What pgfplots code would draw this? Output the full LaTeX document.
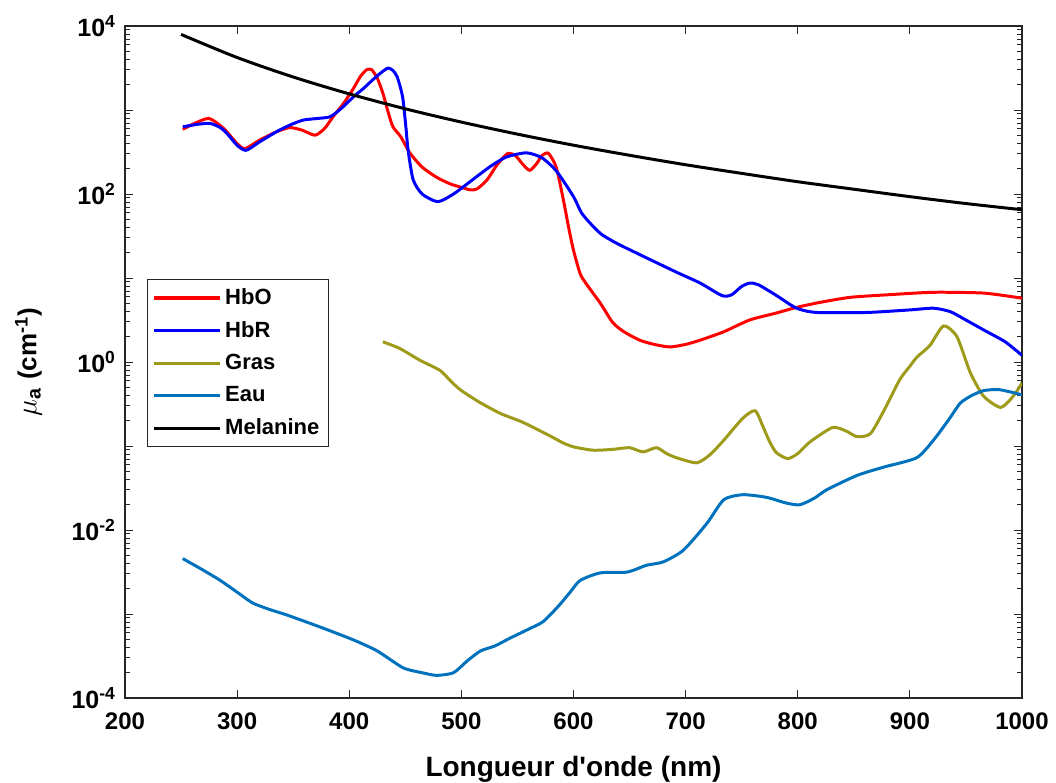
\documentclass[border=0pt]{standalone}
\usepackage{pgfplots}
\pgfplotsset{compat=1.18}
\usepackage{fontspec}
\setmainfont{Liberation Sans}
\definecolor{HbOcol}{RGB}{255,0,0}
\definecolor{HbRcol}{RGB}{0,0,255}
\definecolor{Grascol}{RGB}{158,154,26}
\definecolor{Eaucol}{HTML}{0072BD}
\definecolor{AxCol}{gray}{0.15}
\begin{document}
\begin{tikzpicture}
\useasboundingbox (-62.5bp,-42.5bp) rectangle (465.5bp,349bp);
\begin{axis}[
  scale only axis,
  width=448.5bp, height=336bp,
  xmin=200, xmax=1000,
  ymode=log, ymin=1e-4, ymax=1e4,
  xtick={200,300,...,1000},
  ytick={1e-4,1e-3,1e-2,1e-1,1,1e1,1e2,1e3,1e4},
  yticklabels={10\textsuperscript{-4},,10\textsuperscript{-2},,10\textsuperscript{0},,10\textsuperscript{2},,10\textsuperscript{4}},
  axis line style={draw=AxCol, line width=0.6pt},
  tick style={draw=AxCol, line width=0.5pt},
  tick align=inside,
  major tick length=4bp, minor tick length=2.5bp,
  xticklabel style={font=\fontsize{12bp}{14bp}\selectfont\bfseries, yshift=-4bp, /pgf/number format/assume math mode=true, /pgf/number format/1000 sep={}},
  yticklabel style={font=\fontsize{12.5bp}{14bp}\selectfont\bfseries, xshift=-1bp},
  xlabel={Longueur d{\XeTeXglyph\XeTeXcharglyph"27}onde (nm)},
  ylabel={\fontsize{14bp}{15bp}\selectfont$\mu$\textsubscript{a} \fontsize{13bp}{15bp}\selectfont(cm\textsuperscript{-1})},
  xlabel style={font=\fontsize{14bp}{16bp}\selectfont\bfseries, yshift=-6bp},
  ylabel style={font=\fontsize{13bp}{15bp}\selectfont\bfseries, yshift=8bp},
  legend style={at={(rel axis cs:0.024,0.6235)}, anchor=north west, draw=AxCol, line width=0.5pt,
    font=\fontsize{11bp}{13bp}\selectfont\bfseries, inner sep=2.5bp, row sep=3bp,
    legend cell align=left},
  legend image code/.code={\draw[#1, line width=1.6pt] (0bp,0bp) -- (33bp,0bp);},
  every axis plot/.append style={line width=1.5pt, line join=round, no markers},
]
\addplot[HbOcol, smooth, tension=0.4] coordinates {
(251.5,589) (262,692) (275,794) (288,603) (300,398) (307,347) (320,437) (335,550)
(347,617) (358,575) (369.5,501) (378,603) (385.6,832) (395,1202) (403,1738) (410,2512)
(415.6,3020) (420,3020) (425,2399) (430,1585) (435,912) (439,631) (446,479) (454,309)
(465,209) (478,158) (490,132) (500,120) (508,112) (514,115) (523,148) (532,224)
(541,302) (548,288) (555,224) (561,191) (567,229) (572,288) (577,309) (581,263)
(585,200) (591,85) (596,38) (600,21.4) (606,11.2) (612,8.3) (624,5.0) (635,2.95)
(645,2.29) (659,1.82) (672,1.62) (686,1.51) (700,1.62) (713,1.82) (734,2.29) (757,3.16)
(780,3.80) (799,4.47) (820,5.13) (847,5.89) (880,6.31) (921,6.76) (966,6.61) (1000,5.75)
};
\addlegendentry{HbO}
\addplot[HbRcol, smooth, tension=0.4] coordinates {
(251.5,631) (265,676) (276,692) (285,617) (291,525) (300,380) (308,331) (320,417)
(335,550) (347,661) (359,759) (372,794) (383,832) (393,1047) (404,1445) (413,1820)
(421,2291) (428,2754) (434.6,3162) (439,2951) (442.6,2512) (446,1778) (448,1318) (450.5,631)
(452.5,331) (457,148) (465,100) (479,81) (493,100) (508,141) (525,209) (540,275)
(558,309) (572,269) (585,186) (600,93) (607,60) (615,44.7) (625,33.1) (639,25.7)
(665,17.4) (692,11.7) (713,8.7) (732.5,6.17) (741,6.31) (750,7.94) (757.5,8.71) (765,8.3)
(780,6.31) (799,4.37) (817,3.89) (862,3.89) (900,4.17) (921,4.37) (936,3.98) (950,3.16)
(966,2.40) (985,1.74) (1000,1.20)
};
\addlegendentry{HbR}
\addplot[Grascol, smooth, tension=0.4] coordinates {
(430,1.74) (445,1.45) (463,1.05) (481,0.794) (490,0.603) (499,0.468) (515,0.339) (534.5,0.245)
(555,0.191) (579,0.132) (590,0.110) (600,0.0977) (617.5,0.0891) (635,0.0912) (650,0.0955) (662,0.0851)
(674,0.0955) (683,0.0813) (692,0.0724) (710,0.0631) (722,0.0794) (734,0.117) (751,0.214) (762,0.263)
(769,0.170) (775,0.112) (781,0.0832) (791,0.0708) (800,0.0813) (811,0.112) (831,0.166) (843,0.151)
(853,0.129) (865,0.141) (878,0.282) (891,0.617) (900,0.891) (906.5,1.15) (918,1.58) (930,2.69)
(942,2.00) (954,0.741) (966,0.389) (981,0.288) (992,0.389) (1000,0.562)
};
\addlegendentry{Gras}
\addplot[Eaucol, smooth, tension=0.4] coordinates {
(251.5,0.00457) (270,0.00331) (285,0.00251) (300,0.00182) (314,0.00135) (330,0.00112) (344,0.000977) (375,0.000692)
(404,0.000490) (425,0.000363) (448,0.000229) (465,0.000200) (478,0.000186) (493,0.000200) (505,0.000275) (517,0.000363)
(530,0.000417) (543,0.000513) (560,0.000661) (573,0.000813) (587,0.00126) (597,0.00182) (606,0.00251) (624,0.00309)
(648,0.00316) (665,0.00380) (680,0.00417) (698,0.00575) (719,0.0120) (734,0.0229) (751,0.0263) (772,0.0245)
(790,0.0209) (802,0.0200) (815,0.0240) (826,0.0302) (853,0.0447) (877,0.0562) (906,0.0724) (921,0.117)
(935,0.209) (945,0.324) (955,0.398) (966,0.457) (980,0.468) (1000,0.407)
};
\addlegendentry{Eau}
\addplot[black, smooth] coordinates {
(250,7943) (300,4217) (350,2472) (400,1556) (450,1033) (500,718) (550,516) (600,381)
(650,289) (700,223) (750,176) (800,140) (850,114) (900,93) (950,77) (1000,65)
};
\addlegendentry{Melanine}
\end{axis}
\end{tikzpicture}
\end{document}
